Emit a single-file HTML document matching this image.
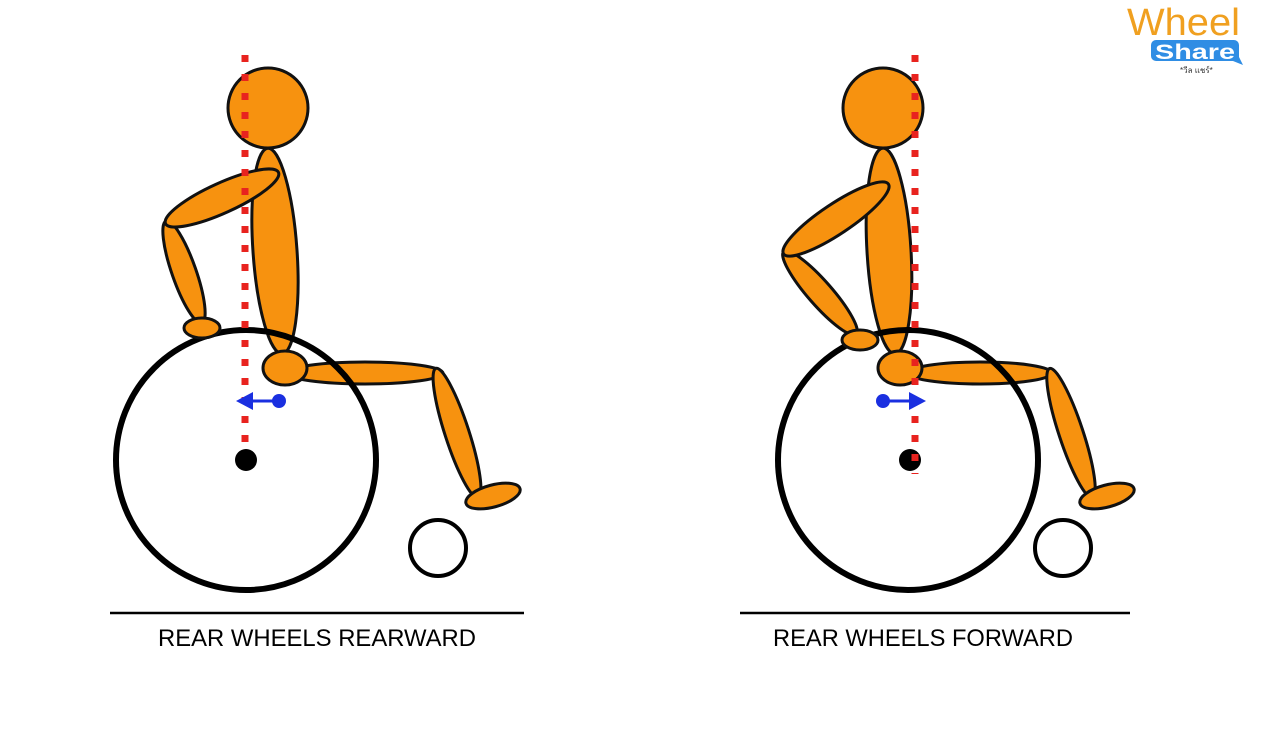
<!DOCTYPE html>
<html><head><meta charset="utf-8"><style>
html,body{margin:0;padding:0;background:#fff;width:1280px;height:733px;overflow:hidden}
</style></head><body>
<svg width="1280" height="733" viewBox="0 0 1280 733" xmlns="http://www.w3.org/2000/svg">
<g fill="#f7920f" stroke="#111" stroke-width="3">
<!-- LEFT -->
<circle cx="268" cy="108" r="40"/>
<ellipse cx="275" cy="251" rx="22" ry="103" transform="rotate(-4 275 251)"/>
<ellipse cx="184" cy="272" rx="54" ry="12" transform="rotate(70.7 184 272)"/>
<ellipse cx="222" cy="198" rx="62" ry="15" transform="rotate(-24.4 222 198)"/>
<ellipse cx="365" cy="373" rx="78" ry="11"/>
<ellipse cx="457" cy="433" rx="68" ry="12" transform="rotate(72 457 433)"/>
<ellipse cx="493" cy="496" rx="28" ry="11" transform="rotate(-15 493 496)"/>
</g>
<circle cx="246" cy="460" r="130" fill="none" stroke="#000" stroke-width="6"/>
<g fill="#f7920f" stroke="#111" stroke-width="3">
<ellipse cx="285" cy="368" rx="22" ry="17"/>
<ellipse cx="202" cy="328" rx="18" ry="10"/>
</g>
<circle cx="246" cy="460" r="11" fill="#000"/>
<circle cx="438" cy="548" r="28" fill="none" stroke="#000" stroke-width="4"/>
<line x1="245" y1="55" x2="245" y2="452" stroke="#e8231f" stroke-width="7" stroke-dasharray="7 12"/>
<line x1="250" y1="401" x2="278" y2="401" stroke="#1a2fe0" stroke-width="3"/>
<circle cx="279" cy="401" r="7" fill="#1a2fe0"/>
<polygon points="236,401 253,392 253,410" fill="#1a2fe0"/>
<line x1="110" y1="613" x2="524" y2="613" stroke="#000" stroke-width="2.5"/>
<text x="158" y="646" font-family="Liberation Sans, sans-serif" font-size="24" textLength="318" lengthAdjust="spacingAndGlyphs" fill="#000">REAR WHEELS REARWARD</text>

<!-- RIGHT -->
<g fill="#f7920f" stroke="#111" stroke-width="3">
<circle cx="883" cy="108" r="40"/>
<ellipse cx="889" cy="251" rx="22" ry="103" transform="rotate(-3.4 889 251)"/>
<ellipse cx="820" cy="293" rx="55" ry="12" transform="rotate(48.8 820 293)"/>
<ellipse cx="836" cy="219" rx="63" ry="15" transform="rotate(-33.7 836 219)"/>
<ellipse cx="980" cy="373" rx="72" ry="11"/>
<ellipse cx="1071" cy="433" rx="68" ry="12" transform="rotate(71.7 1071 433)"/>
<ellipse cx="1107" cy="496" rx="28" ry="11" transform="rotate(-15 1107 496)"/>
</g>
<circle cx="908" cy="460" r="130" fill="none" stroke="#000" stroke-width="6"/>
<g fill="#f7920f" stroke="#111" stroke-width="3">
<ellipse cx="900" cy="368" rx="22" ry="17"/>
<ellipse cx="860" cy="340" rx="18" ry="10"/>
</g>
<circle cx="910" cy="460" r="11" fill="#000"/>
<circle cx="1063" cy="548" r="28" fill="none" stroke="#000" stroke-width="4"/>
<line x1="915" y1="55" x2="915" y2="474" stroke="#e8231f" stroke-width="7" stroke-dasharray="7 12"/>
<line x1="883" y1="401" x2="912" y2="401" stroke="#1a2fe0" stroke-width="3"/>
<circle cx="883" cy="401" r="7" fill="#1a2fe0"/>
<polygon points="926,401 909,392 909,410" fill="#1a2fe0"/>
<line x1="740" y1="613" x2="1130" y2="613" stroke="#000" stroke-width="2.5"/>
<text x="773" y="646" font-family="Liberation Sans, sans-serif" font-size="24" textLength="300" lengthAdjust="spacingAndGlyphs" fill="#000">REAR WHEELS FORWARD</text>

<!-- LOGO -->
<text x="1127" y="35" font-family="Liberation Sans, sans-serif" font-size="38" fill="#f0a020" textLength="113" lengthAdjust="spacingAndGlyphs">Wheel</text>
<path d="M1156,40 h78 a5,5 0 0 1 5,5 v12 l4,8 l-10,-4 h-77 a5,5 0 0 1 -5,-5 v-11 a5,5 0 0 1 5,-5z" fill="#2f8de4"/>
<text x="1155" y="59" font-family="Liberation Sans, sans-serif" font-size="21" font-weight="bold" fill="#fff" textLength="80" lengthAdjust="spacingAndGlyphs">Share</text>
<text x="1180" y="73" font-family="Liberation Sans, 'Noto Sans CJK SC', sans-serif" font-size="8" fill="#333">*วีล แชร์*</text>
</svg>
</body></html>
